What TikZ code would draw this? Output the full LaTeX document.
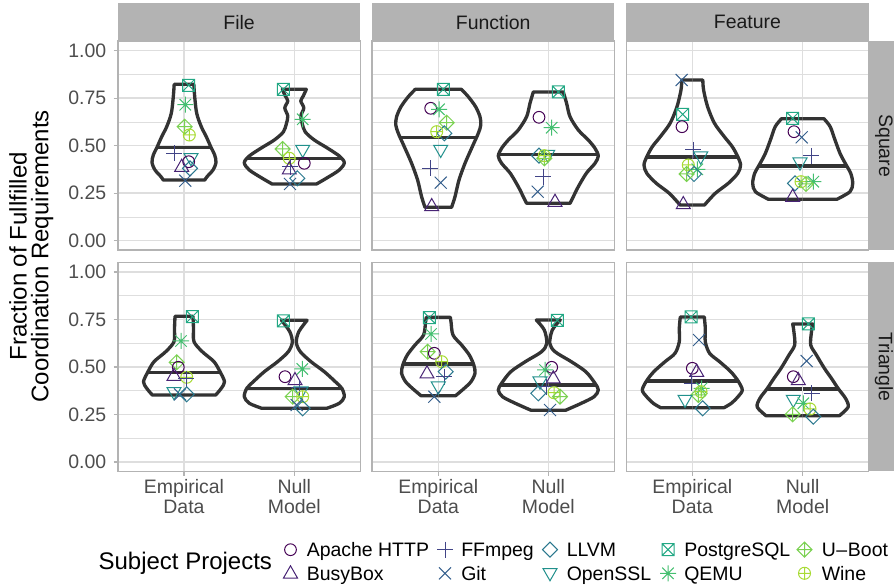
\documentclass[tikz,border=0pt]{standalone}
\usepackage{fontspec}
\setmainfont{Liberation Sans}
\definecolor{gray70}{HTML}{B3B3B3}
\definecolor{gray87}{HTML}{DEDEDE}
\definecolor{gray30}{HTML}{4D4D4D}
\definecolor{vgray}{HTML}{333333}
\definecolor{stripcol}{HTML}{1A1A1A}
\definecolor{cAp}{HTML}{440154}
\definecolor{cBb}{HTML}{482475}
\definecolor{cFf}{HTML}{414487}
\definecolor{cGi}{HTML}{355F8D}
\definecolor{cLl}{HTML}{2A788E}
\definecolor{cOs}{HTML}{21908C}
\definecolor{cPg}{HTML}{22A884}
\definecolor{cQe}{HTML}{44BF70}
\definecolor{cUb}{HTML}{7AD151}
\definecolor{cWi}{HTML}{A8DB34}
\tikzset{
 mk/.style={line width=0.75pt},
 ap/.pic={\draw[mk,cAp] (0,0) circle (4.4pt);},
 bb/.pic={\draw[mk,cBb] (0,-7.5) -- (7,4.7) -- (-7,4.7) -- cycle;},
 ff/.pic={\draw[mk,cFf] (-8,0) -- (8,0) (0,-8) -- (0,8);},
 gi/.pic={\draw[mk,cGi] (-6,-6) -- (6,6) (-6,6) -- (6,-6);},
 ll/.pic={\draw[mk,cLl] (0,-7.5) -- (7.5,0) -- (0,7.5) -- (-7.5,0) -- cycle;},
 os/.pic={\draw[mk,cOs] (0,7.5) -- (7,-4.7) -- (-7,-4.7) -- cycle;},
 pg/.pic={\draw[mk,cPg] (-6,-6) rectangle (6,6) (-6,-6) -- (6,6) (-6,6) -- (6,-6);},
 qe/.pic={\draw[mk,cQe] (-8,0) -- (8,0) (0,-8) -- (0,8) (-5.7,-5.7) -- (5.7,5.7) (-5.7,5.7) -- (5.7,-5.7);},
 ub/.pic={\draw[mk,cUb] (0,-7.5) -- (7.5,0) -- (0,7.5) -- (-7.5,0) -- cycle (-7.5,0) -- (7.5,0) (0,-7.5) -- (0,7.5);},
 wi/.pic={\draw[mk,cWi] (0,0) circle (4.5pt) (-6,0) -- (6,0) (0,-6) -- (0,6);},
 violine/.style={draw=vgray,line width=2.5pt,line join=round},
 medline/.style={draw=vgray,line width=2.6pt},
 gmaj/.style={draw=gray87,line width=0.9pt},
 gmin/.style={draw=gray87,line width=0.5pt},
 pborder/.style={draw=gray70,line width=1pt},
 tickmark/.style={draw=gray70,line width=0.8pt},
 ticklab/.style={text=gray30,font=\fontsize{14.6}{15}\selectfont,inner sep=0pt},
 xlab/.style={text=gray30,font=\fontsize{14.6}{15}\selectfont,inner sep=0pt,align=center,anchor=north},
 striptext/.style={text=stripcol,font=\fontsize{14.6}{15}\selectfont,inner sep=0pt},
 legtext/.style={text=black,font=\fontsize{14.6}{15}\selectfont,inner sep=0pt,anchor=base west},
}
\newcommand\putpic[3]{\pic at (#2,#3) {#1};}
\newcommand\pts[1]{\foreach \k/\a/\b in {#1}{\expandafter\putpic\expandafter{\k}{\a}{\b}}}
% cx, ytop, ybot, ymedian, right-half coordinates
\newcommand\vio[5]{%
 \begin{scope}[shift={(#1,0)}]
 \foreach \s in {1,-1}{
  \begin{scope}[xscale=\s]
   \begin{scope}
    \clip (0,#2) -- plot[smooth] coordinates {#5} -- (0,#3) -- cycle;
    \draw[medline] (0,#4) -- (70,#4);
   \end{scope}
   \draw[violine] (0,#2) -- plot[smooth] coordinates {#5} -- (0,#3);
  \end{scope}
 }
 \end{scope}}
\begin{document}
\begin{tikzpicture}[x=0.75pt,y=-0.75pt]
\useasboundingbox (0,0) rectangle (894,588);
\clip (0,0) rectangle (894,588);
% panels and grids
\foreach \L in {117.9,372.0,626.2}{
 \foreach \Y in {240.6,462.0}{
  \fill[white] (\L,{\Y-199.5}) rectangle ({\L+242.4},{\Y+9.5});
  \foreach \v in {0.125,0.375,0.625,0.875}
   \draw[gmin] (\L,{\Y-190*\v}) -- ({\L+242.4},{\Y-190*\v});
  \foreach \v in {0,0.25,0.5,0.75,1}
   \draw[gmaj] (\L,{\Y-190*\v}) -- ({\L+242.4},{\Y-190*\v});
  \draw[gmaj] ({\L+66.1},{\Y-199.5}) -- ({\L+66.1},{\Y+9.5});
  \draw[gmaj] ({\L+176.3},{\Y-199.5}) -- ({\L+176.3},{\Y+9.5});
 }
}
% violins: top row (Square)
\vio{184}{84.3}{180}{147.3}{(9.8,84.3) (10.7,96.7) (12.7,113.3) (17.3,126.7) (22.3,136.7) (27,147.3) (30.7,155) (32,162.7) (29,170) (23,176.7) (20.8,180)}
\vio{294.3}{89.3}{184}{158.7}{(12,89.3) (9,96) (6.5,101) (9.5,108) (6.5,116) (8,124) (11,132) (20,140) (33,148) (45,156) (50,162.7) (45,170) (32,178.3) (22.2,184)}
\vio{438.3}{89.3}{207.3}{137.3}{(23,89.3) (30,96.7) (37.3,106.7) (41.7,116.7) (42.5,125) (40,133.3) (34,146.7) (26.7,163.3) (20.7,180) (16.7,196.7) (13.3,207.3)}
\vio{548.3}{92}{203.3}{154.7}{(15,92) (18.3,103.3) (21.7,116.7) (30,130) (40,140) (46.7,148.3) (50,156) (46.7,163.3) (38,173.3) (30,186.7) (25,196.7) (21.7,203.3)}
\vio{692.3}{80}{205}{157}{(10.5,80) (11.3,90) (15.3,106.7) (22.2,123.3) (32,136.7) (40,146.7) (45.5,156.7) (48.3,165) (45.5,173.3) (36,183.3) (23,193.3) (12.2,205)}
\vio{802.7}{118.7}{199.3}{166}{(21.2,118.7) (27.5,126.7) (32.3,140) (37.3,153.3) (42.5,163.3) (48,173.3) (50,183.3) (47.3,191.7) (34.2,199.3)}
% violins: bottom row (Triangle)
\vio{184}{316.3}{395}{372.3}{(9,316.3) (9.5,328.3) (10,341.7) (18.3,351.7) (30,361.7) (36,371.7) (40.5,381.7) (37.3,388.3) (31.7,395)}
\vio{294.3}{320.3}{408.3}{388.3}{(12.8,320.3) (4.5,331.7) (2,342.3) (6,351.7) (16.7,361.7) (30,371.7) (41,381.7) (47.5,388.3) (50,396.7) (45,403.3) (32.5,408.3)}
\vio{438.3}{317.3}{395.7}{364}{(12,317.3) (12.7,321.7) (14.7,335) (23.3,345) (31,355) (35.5,365) (36.7,373.3) (32.7,381.7) (26,388.3) (17.3,395.7)}
\vio{548.3}{320}{410.3}{385}{(12,320) (4,330) (1.5,343.3) (6.7,351.7) (23,361.7) (37.5,371.7) (46.7,383.3) (50,390) (45.8,396.7) (33,403.3) (17.2,410.3)}
\vio{692.3}{317}{407.7}{381}{(12,317) (13,328.3) (13,341.7) (17.3,353.3) (27.3,361.7) (38.5,371.7) (45.8,381) (50,390) (45.7,396.7) (39,403.3) (31.7,407.7)}
\vio{802.7}{324}{415.7}{389}{(10,324) (8.8,331.7) (8,345) (13.7,355) (21.7,368.3) (28.7,378.3) (35.8,389) (42.8,398.3) (45.5,407) (36.7,415.7)}
% points
\pts{pg/188.7/85.3, qe/185.3/104.7, ub/184.7/126.7, wi/189.3/135, ff/174/153.3, os/191/158.3, ap/188.7/161.7, bb/181.7/166.7, ll/190/168.3, gi/185.3/180.7}
\pts{pg/283.3/89.3, qe/302.7/119.3, os/302.7/150, ub/282.7/149, wi/289.3/158.3, ap/304.3/163.3, ff/290/166.7, bb/289.3/169.3, ll/297.3/178.3, gi/290/184}
\pts{pg/443.3/89.3, ap/430.7/108.3, qe/439/109.3, ub/446.7/122.7, ll/444.3/133.3, wi/436.7/131.7, os/440.7/150, ff/430/168.3, gi/440.7/182.7, bb/431.7/206}
\pts{pg/558.3/92, ap/539/117.3, qe/551.7/127.7, ll/539/155.7, os/547.7/155, ub/544.3/158.3, wi/544.3/155.7, ff/543.3/176.7, gi/537.7/191.7, bb/555/201.7}
\pts{gi/681.7/80, pg/682.7/114.3, ap/682/126.7, ff/693.3/150, os/700.7/156.7, wi/688.3/165, qe/697.3/169.3, ll/694/174, ub/686.7/174, bb/683.3/204}
\pts{pg/792.7/118.3, ap/794/131.7, gi/801.7/137.3, ff/811/156, os/800/162.7, ll/795/183.3, wi/801/181.7, qe/813.3/181.7, ub/806/184, bb/792.7/196.7}
\pts{pg/192.3/316.7, qe/181/341, ub/176.7/362.3, ap/178.3/367.3, bb/174/375.7, wi/186.7/377.3, ff/186/379, os/174/392.3, gi/180/394.3, ll/186.7/394.3}
\pts{pg/283.3/321, qe/302.3/369, ap/285/376.7, bb/295/380, ff/299.3/387.7, os/301/391.7, ub/292.7/396.7, wi/302.7/396.7, gi/296.7/405, ll/302.7/408.3}
\pts{pg/429.3/317.7, qe/431/334, ub/427.7/351.7, ap/434.3/353.3, wi/441.7/361.7, bb/427/373.3, ll/445.7/371.7, ff/444.3/376.7, os/438.3/386.7, gi/434.3/396.7}
\pts{pg/557.3/320.3, ap/551.7/367.3, qe/545/370, bb/553.3/378.3, os/540/381.7, ff/546.7/386.7, ll/538.3/393.3, wi/554/392.7, ub/560/396.7, gi/550/410}
\pts{pg/691/317, gi/699/340, ap/692.3/368.3, bb/696.7/371.7, ff/691.7/383.3, qe/701.7/388.3, wi/701/391.7, ub/698.3/395, os/685/400, ll/702.7/408.3}
\pts{pg/808.3/324, gi/806.7/361, ap/793.3/376.7, bb/798.3/380, ff/811.7/393.3, os/793.3/400, qe/803.3/403.3, wi/810/409, ll/813.3/416.7, ub/792.7/414.3}
% panel borders
\foreach \L in {117.9,372.0,626.2}{
 \foreach \Y in {240.6,462.0}{
  \draw[pborder] (\L,{\Y-199.5}) rectangle ({\L+242.4},{\Y+9.5});
 }
 \fill[gray70] (\L,3.3) rectangle ({\L+242.4},41.1);
}
\fill[gray70] (868.6,41.1) rectangle (906.5,250.1);
\fill[gray70] (868.6,262.5) rectangle (906.5,471.5);
% strip texts
\node[striptext] (sFile) at (239.1,22.2) {File};
\node[striptext] (sFunc) at (493.2,22.2) {Function};
\node[striptext] (sFeat) at (747.4,22.2) {Feature};
\node[striptext,rotate=-90] (sSq) at (883.8,145.6) {Square};
\node[striptext,rotate=-90] (sTri) at (883.8,367) {Triangle};
% y axis ticks and labels
\foreach \Y [count=\r] in {240.6,462.0}{
 \foreach \v/\t [count=\n] in {0/0.00,0.25/0.25,0.5/0.50,0.75/0.75,1/1.00}{
  \draw[tickmark] (113.5,{\Y-190*\v}) -- (117.9,{\Y-190*\v});
  \node[ticklab,anchor=east] (yl\r\n) at (106.5,{\Y-190*\v}) {\t};
 }
}
% x axis ticks and labels
\foreach \cx in {184,294.3,438.3,548.3,692.3,802.7}
 \draw[tickmark] (\cx,471.5) -- (\cx,475.9);
\node[xlab] (xe1) at (184,479) {Empirical\\Data};
\node[xlab] (xn1) at (294.3,479) {Null\\Model};
\node[xlab] (xe2) at (438.3,479) {Empirical\\Data};
\node[xlab] (xn2) at (548.3,479) {Null\\Model};
\node[xlab] (xe3) at (692.3,479) {Empirical\\Data};
\node[xlab] (xn3) at (802.7,479) {Null\\Model};
% y title
\node[rotate=90,align=center,inner sep=0pt,font=\fontsize{18}{16.2}\selectfont] (ytitle) at (31.3,256.3) {Fraction of Fullfilled\\Coordination Requirements};
% legend
\node[anchor=base west,inner sep=0pt,font=\fontsize{18}{20}\selectfont] (legtitle) at (98.3,569) {Subject Projects};
\pic at (290.5,549.7) {ap}; \node[legtext] (lAp) at (306.5,556.7) {Apache HTTP};
\pic at (290.5,573.3) {bb}; \node[legtext] (lBb) at (306.5,580.5) {BusyBox};
\pic at (445,549.7) {ff}; \node[legtext] (lFf) at (461,556.7) {FFmpeg};
\pic at (445,573.3) {gi}; \node[legtext] (lGi) at (461,580.5) {Git};
\pic at (550,549.7) {ll}; \node[legtext] (lLl) at (566.5,556.7) {LLVM};
\pic at (550,573.3) {os}; \node[legtext] (lOs) at (566.5,580.5) {OpenSSL};
\pic at (668,549.7) {pg}; \node[legtext] (lPg) at (684,556.7) {PostgreSQL};
\pic at (668,573.3) {qe}; \node[legtext] (lQe) at (684,580.5) {QEMU};
\pic at (804.5,549.7) {ub}; \node[legtext] (lUb) at (821.5,556.7) {U\kern0.5pt--\kern0.5pt Boot};
\pic at (804.5,573.3) {wi}; \node[legtext] (lWi) at (821.5,580.5) {Wine};
\end{tikzpicture}
\end{document}
